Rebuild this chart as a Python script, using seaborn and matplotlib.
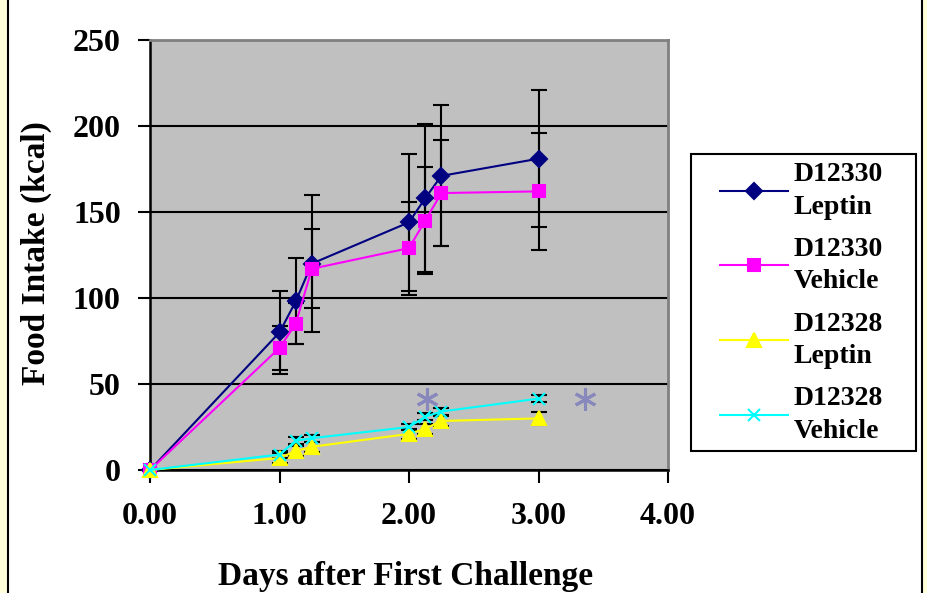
# Food intake after first challenge - D12330 / D12328, leptin vs vehicle
import numpy as np
import matplotlib
matplotlib.use("Agg")
import matplotlib.pyplot as plt
from matplotlib.patches import Rectangle
import seaborn as sns

# data
days = [0, 1.0, 1.125, 1.25, 2.0, 2.125, 2.25, 3.0]

d12330_leptin = [0, 80, 98, 120, 144, 158, 171, 181]
d12330_leptin_err = [0, 24, 25, 40, 40, 43, 41, 40]
d12330_vehicle = [0, 71, 85, 117, 129, 145, 161, 162]
d12330_vehicle_err = [0, 13, 12, 23, 27, 31, 31, 34]
d12328_leptin = [0, 7, 11, 13.5, 21, 24, 28.5, 30]
d12328_leptin_err = [0, 3, 3, 3, 3, 3, 3, 4]
d12328_vehicle = [0, 9, 17, 18.5, 25, 31, 34, 41.5]
d12328_vehicle_err = [0, 2, 2, 2, 2, 2, 2, 2]

# significance asterisks
sig_days = [2.14, 3.36]
sig_kcal = [41.5, 41]

series_labels = ["D12330\nLeptin", "D12330\nVehicle", "D12328\nLeptin", "D12328\nVehicle"]
x_ticks = [0, 1, 2, 3, 4]
x_tick_labels = ["0.00", "1.00", "2.00", "3.00", "4.00"]
y_ticks = [0, 50, 100, 150, 200, 250]

plt.rcParams["font.family"] = ["Liberation Serif", "DejaVu Serif"]
plt.rcParams["font.weight"] = "bold"

W, H = 927, 593
fig = plt.figure(figsize=(W / 100, H / 100), dpi=100)
fig.patch.set_facecolor("#ffffdc")
# white chart area with black border, cut off at top and bottom
fig.patches.append(Rectangle((8 / W, -0.05), (922 - 8) / W, 1.1, transform=fig.transFigure,
                             facecolor="white", edgecolor="black", lw=1.5, zorder=-1))

ax = fig.add_axes([150 / W, 1 - 470 / H, 518 / W, 430 / H])
ax.set_facecolor("#c0c0c0")

styles = [
    (d12330_leptin, d12330_leptin_err, "#000080", "D", 8),
    (d12330_vehicle, d12330_vehicle_err, "#ff00ff", "s", 9),
    (d12328_leptin, d12328_leptin_err, "#ffff00", "^", 10),
    (d12328_vehicle, d12328_vehicle_err, "#00ffff", "x", 8),
]

handles = []
for (vals, err, col, mk, ms), lab in zip(styles, series_labels):
    ax.errorbar(days[1:], vals[1:], yerr=err[1:], fmt="none", ecolor="black",
                elinewidth=1.5, capsize=6, capthick=1.5, zorder=3)
    sns.lineplot(x=days, y=vals, color=col, marker=mk, markersize=ms,
                 markeredgecolor=col, markeredgewidth=1.5, linewidth=1.5,
                 errorbar=None, sort=False, ax=ax, zorder=4)
    line = ax.lines[-1]
    line.set_clip_on(False)
    handles.append(line)

ax.plot(sig_days, sig_kcal, linestyle="none", marker=(6, 2, 0), markersize=16,
        markeredgewidth=2.2, color="#8888bc", clip_on=False, zorder=5)

ax.set_xlim(0, 4)
ax.set_ylim(0, 250)
ax.set_xticks(x_ticks)
ax.set_xticklabels(x_tick_labels)
ax.set_yticks(y_ticks)
ax.grid(axis="y", color="black", linewidth=1.5)
ax.set_axisbelow(True)

for side in ["left", "bottom"]:
    ax.spines[side].set_color("black")
    ax.spines[side].set_linewidth(1.8)
for side in ["top", "right"]:
    ax.spines[side].set_color("#808080")
    ax.spines[side].set_linewidth(2)

ax.tick_params(axis="y", length=9, width=1.5, pad=12, labelsize=23)
ax.tick_params(axis="x", length=9, width=1.5, pad=14, labelsize=23)

ax.set_xlabel("Days after First Challenge", fontsize=24, fontweight="bold")
ax.set_ylabel("Food Intake (kcal)", fontsize=24, fontweight="bold")
ax.xaxis.set_label_coords(0.494, -0.212)
ax.yaxis.set_label_coords(-0.19, 0.505)

# legend box drawn separately so the frame matches the reference
fig.patches.append(Rectangle((691 / W, 1 - 451 / H), 225 / W, 297 / H, transform=fig.transFigure,
                             facecolor="white", edgecolor="black", lw=1.5, zorder=1))
leg = fig.legend(handles, series_labels, loc="upper left", bbox_to_anchor=(720 / W, 1 - 162 / H),
                 bbox_transform=fig.transFigure, frameon=False, borderpad=0, borderaxespad=0,
                 handlelength=2.45, handletextpad=0.2, labelspacing=0.62,
                 prop={"family": "Liberation Serif", "weight": "bold", "size": 20})
for t in leg.get_texts():
    t.set_linespacing(1.4)

fig.savefig("out.png", dpi=100)
